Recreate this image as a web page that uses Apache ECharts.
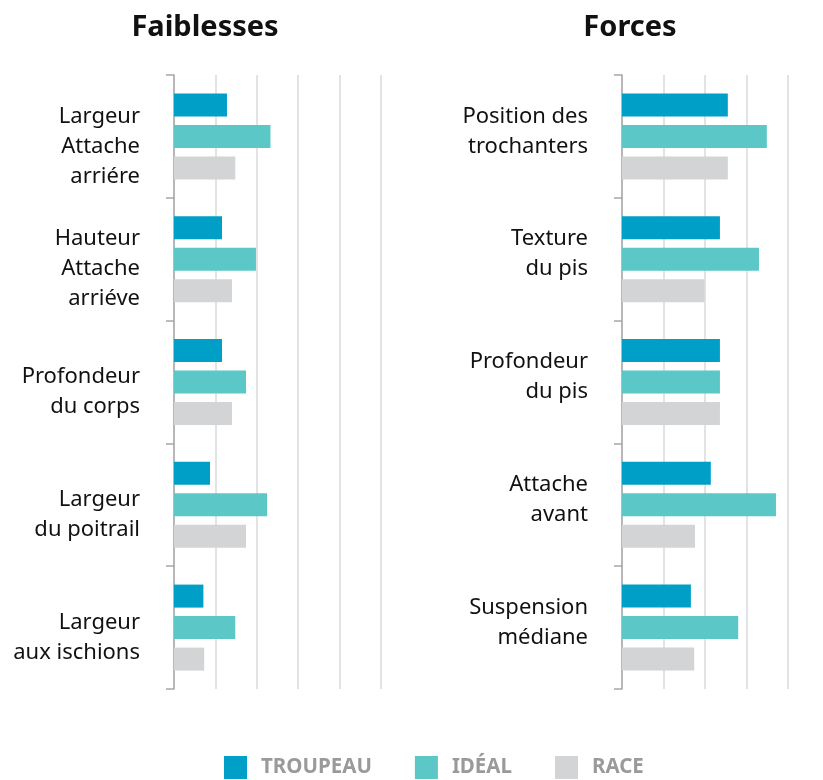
<!DOCTYPE html>
<html>
<head>
<meta charset="utf-8">
<script src="https://cdn.jsdelivr.net/npm/echarts@6/dist/echarts.min.js"></script>
<style>
html,body{margin:0;padding:0;background:#fff;}
#echartsDiv{width:823px;height:780px;}
</style>
</head>
<body>
<div id="echartsDiv"></div>
<script>
var myChart=echarts.init(document.getElementById('echartsDiv'));

// catégories (haut vers bas)
var faiblesses=['Largeur\nAttache\narriére','Hauteur\nAttache\narriéve','Profondeur\ndu corps','Largeur\ndu poitrail','Largeur\naux ischions'];
var forces=['Position des\ntrochanters','Texture\ndu pis','Profondeur\ndu pis','Attache\navant','Suspension\nmédiane'];

// valeurs
var faibTroupeau=[1.28,1.16,1.16,0.87,0.71];
var faibIdeal=[2.33,1.98,1.74,2.25,1.48];
var faibRace=[1.48,1.40,1.40,1.74,0.73];

var forTroupeau=[2.55,2.36,2.36,2.14,1.66];
var forIdeal=[3.49,3.30,2.36,3.71,2.80];
var forRace=[2.55,1.99,2.36,1.76,1.74];

var noms=['TROUPEAU','IDÉAL','RACE'];
var couleurs=['#009fc7','#5bc7c6','#d3d4d6'];

var police='Noto Sans';

function axeX(idx,max){
	return {
		type:'value',gridIndex:idx,min:0,max:max,interval:1,
		axisLine:{show:false},axisTick:{show:false},axisLabel:{show:false},
		splitLine:{show:true,lineStyle:{color:'#dadada',width:1.5}}
	};
}
//décalage vertical des libellés via une ligne vide (haut ou bas)
function axeY(idx,cats,fmt,h){
	return {
		type:'category',gridIndex:idx,data:cats,inverse:true,
		axisLine:{show:true,lineStyle:{color:'#a8a8a8',width:1.5}},
		axisTick:{show:true,length:8,lineStyle:{color:'#a8a8a8',width:1.5}},
		axisLabel:{
			interval:0,hideOverlap:false,margin:34,color:'#111',fontFamily:police,fontSize:22,lineHeight:30,align:'right',
			formatter:fmt,
			rich:{s:{fontSize:2,lineHeight:h}}
		}
	};
}
function serie(i,idx,data){
	return {
		name:noms[i],type:'bar',xAxisIndex:idx,yAxisIndex:idx,data:data,
		barWidth:23,barGap:'37%',itemStyle:{color:couleurs[i]},silent:true
	};
}

var option={
	animation:false,
	title:[
		{text:'Faiblesses',left:200,top:8,textAlign:'center',textStyle:{fontFamily:police,fontSize:29,fontWeight:'bold',color:'#111'}},
		{text:'Forces',left:625,top:8,textAlign:'center',textStyle:{fontFamily:police,fontSize:29,fontWeight:'bold',color:'#111'}}
	],
	legend:{
		data:noms,top:751,left:219,itemWidth:23,itemHeight:23,itemGap:43,icon:'rect',
		textStyle:{fontFamily:police,fontSize:20.5,fontWeight:'bold',color:'#999a9c',padding:[0,0,0,9]}
	},
	grid:[
		{left:174,top:75,width:207,height:614},
		{left:622,top:75,width:166,height:614}
	],
	xAxis:[axeX(0,5),axeX(1,4)],
	yAxis:[
		axeY(0,faiblesses,function(v){return '{s| }\n'+v;},20),
		axeY(1,forces,function(v){return v+'\n{s| }';},10)
	],
	series:[
		serie(0,0,faibTroupeau),serie(1,0,faibIdeal),serie(2,0,faibRace),
		serie(0,1,forTroupeau),serie(1,1,forIdeal),serie(2,1,forRace)
	]
};
myChart.setOption(option);
</script>
</body>
</html>
